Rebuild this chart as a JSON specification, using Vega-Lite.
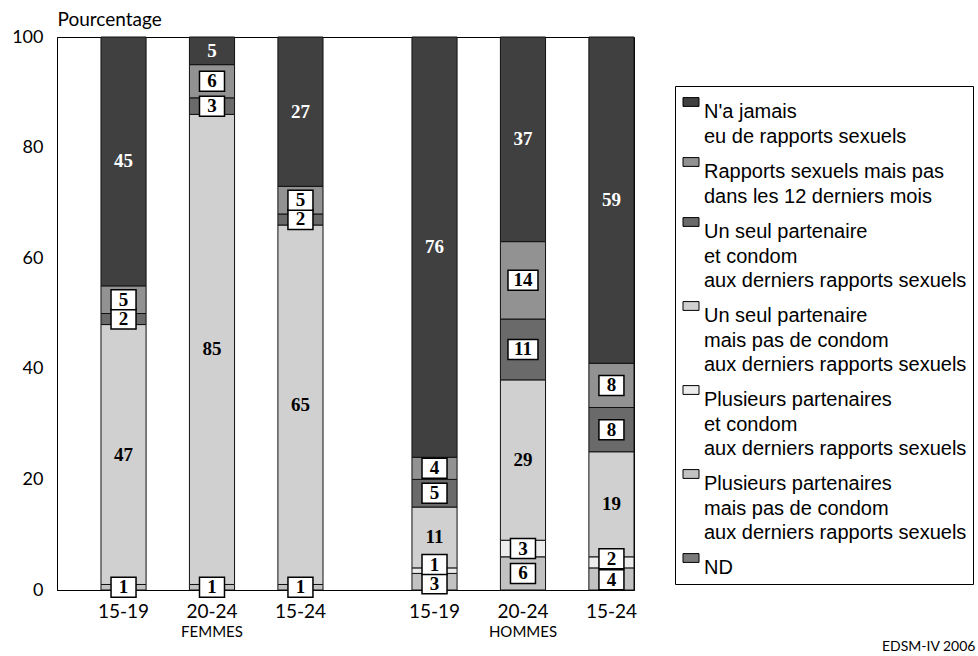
{
  "$schema": "https://vega.github.io/schema/vega-lite/v6.json",
  "width": 577,
  "height": 553,
  "autosize": {"type": "none"},
  "padding": {"left": 57, "top": 37, "right": 344, "bottom": 66},
  "background": "white",
  "config": {
    "view": {"stroke": "black", "strokeWidth": 1},
    "style": {"guide-label": {"lineHeight": 24.5}}
  },
  "data": {
    "values": [
      {"sexe": "FEMMES", "age": "15-19", "categorie": "Plusieurs partenaires|mais pas de condom|aux derniers rapports sexuels", "ordre": 1, "valeur": 1},
      {"sexe": "FEMMES", "age": "15-19", "categorie": "Un seul partenaire|mais pas de condom|aux derniers rapports sexuels", "ordre": 3, "valeur": 47},
      {"sexe": "FEMMES", "age": "15-19", "categorie": "Un seul partenaire|\u00a0et condom|aux derniers rapports sexuels", "ordre": 4, "valeur": 2},
      {"sexe": "FEMMES", "age": "15-19", "categorie": "Rapports sexuels mais pas|\u00a0dans les 12 derniers mois", "ordre": 5, "valeur": 5},
      {"sexe": "FEMMES", "age": "15-19", "categorie": "N'a jamais|eu de rapports sexuels", "ordre": 6, "valeur": 45},
      {"sexe": "FEMMES", "age": "20-24", "categorie": "Plusieurs partenaires|mais pas de condom|aux derniers rapports sexuels", "ordre": 1, "valeur": 1},
      {"sexe": "FEMMES", "age": "20-24", "categorie": "Un seul partenaire|mais pas de condom|aux derniers rapports sexuels", "ordre": 3, "valeur": 85},
      {"sexe": "FEMMES", "age": "20-24", "categorie": "Un seul partenaire|\u00a0et condom|aux derniers rapports sexuels", "ordre": 4, "valeur": 3},
      {"sexe": "FEMMES", "age": "20-24", "categorie": "Rapports sexuels mais pas|\u00a0dans les 12 derniers mois", "ordre": 5, "valeur": 6},
      {"sexe": "FEMMES", "age": "20-24", "categorie": "N'a jamais|eu de rapports sexuels", "ordre": 6, "valeur": 5},
      {"sexe": "FEMMES", "age": "15-24", "categorie": "Plusieurs partenaires|mais pas de condom|aux derniers rapports sexuels", "ordre": 1, "valeur": 1},
      {"sexe": "FEMMES", "age": "15-24", "categorie": "Un seul partenaire|mais pas de condom|aux derniers rapports sexuels", "ordre": 3, "valeur": 65},
      {"sexe": "FEMMES", "age": "15-24", "categorie": "Un seul partenaire|\u00a0et condom|aux derniers rapports sexuels", "ordre": 4, "valeur": 2},
      {"sexe": "FEMMES", "age": "15-24", "categorie": "Rapports sexuels mais pas|\u00a0dans les 12 derniers mois", "ordre": 5, "valeur": 5},
      {"sexe": "FEMMES", "age": "15-24", "categorie": "N'a jamais|eu de rapports sexuels", "ordre": 6, "valeur": 27},
      {"sexe": "HOMMES", "age": "15-19", "categorie": "Plusieurs partenaires|mais pas de condom|aux derniers rapports sexuels", "ordre": 1, "valeur": 3},
      {"sexe": "HOMMES", "age": "15-19", "categorie": "Plusieurs partenaires|\u00a0et condom|aux derniers rapports sexuels", "ordre": 2, "valeur": 1},
      {"sexe": "HOMMES", "age": "15-19", "categorie": "Un seul partenaire|mais pas de condom|aux derniers rapports sexuels", "ordre": 3, "valeur": 11},
      {"sexe": "HOMMES", "age": "15-19", "categorie": "Un seul partenaire|\u00a0et condom|aux derniers rapports sexuels", "ordre": 4, "valeur": 5},
      {"sexe": "HOMMES", "age": "15-19", "categorie": "Rapports sexuels mais pas|\u00a0dans les 12 derniers mois", "ordre": 5, "valeur": 4},
      {"sexe": "HOMMES", "age": "15-19", "categorie": "N'a jamais|eu de rapports sexuels", "ordre": 6, "valeur": 76},
      {"sexe": "HOMMES", "age": "20-24", "categorie": "Plusieurs partenaires|mais pas de condom|aux derniers rapports sexuels", "ordre": 1, "valeur": 6},
      {"sexe": "HOMMES", "age": "20-24", "categorie": "Plusieurs partenaires|\u00a0et condom|aux derniers rapports sexuels", "ordre": 2, "valeur": 3},
      {"sexe": "HOMMES", "age": "20-24", "categorie": "Un seul partenaire|mais pas de condom|aux derniers rapports sexuels", "ordre": 3, "valeur": 29},
      {"sexe": "HOMMES", "age": "20-24", "categorie": "Un seul partenaire|\u00a0et condom|aux derniers rapports sexuels", "ordre": 4, "valeur": 11},
      {"sexe": "HOMMES", "age": "20-24", "categorie": "Rapports sexuels mais pas|\u00a0dans les 12 derniers mois", "ordre": 5, "valeur": 14},
      {"sexe": "HOMMES", "age": "20-24", "categorie": "N'a jamais|eu de rapports sexuels", "ordre": 6, "valeur": 37},
      {"sexe": "HOMMES", "age": "15-24", "categorie": "Plusieurs partenaires|mais pas de condom|aux derniers rapports sexuels", "ordre": 1, "valeur": 4},
      {"sexe": "HOMMES", "age": "15-24", "categorie": "Plusieurs partenaires|\u00a0et condom|aux derniers rapports sexuels", "ordre": 2, "valeur": 2},
      {"sexe": "HOMMES", "age": "15-24", "categorie": "Un seul partenaire|mais pas de condom|aux derniers rapports sexuels", "ordre": 3, "valeur": 19},
      {"sexe": "HOMMES", "age": "15-24", "categorie": "Un seul partenaire|\u00a0et condom|aux derniers rapports sexuels", "ordre": 4, "valeur": 8},
      {"sexe": "HOMMES", "age": "15-24", "categorie": "Rapports sexuels mais pas|\u00a0dans les 12 derniers mois", "ordre": 5, "valeur": 8},
      {"sexe": "HOMMES", "age": "15-24", "categorie": "N'a jamais|eu de rapports sexuels", "ordre": 6, "valeur": 59}
    ]
  },
  "transform": [
    {"stack": "valeur", "groupby": ["sexe", "age"], "sort": [{"field": "ordre", "order": "ascending"}], "as": ["y0", "y1"]},
    {"calculate": "(datum.y0 + datum.y1) / 2 + (datum.sexe == 'HOMMES' && datum.age == '15-19' ? (datum.ordre == 2 ? 1.1 : (datum.ordre == 1 ? -0.35 : 0)) : 0) + (datum.sexe == 'HOMMES' && datum.age == '15-24' ? (datum.ordre == 2 ? 0.65 : (datum.ordre == 1 ? -0.15 : 0)) : 0)", "as": "milieu"}
  ],
  "encoding": {
    "x": {
      "field": "sexe", "type": "nominal", "sort": ["FEMMES", "HOMMES"],
      "scale": {"paddingInner": 0.286, "paddingOuter": 0.0707, "align": 1},
      "axis": {
        "title": "EDSM-IV 2006", "titleX": 918, "titleY": 60, "titleAlign": "right", "titleAnchor": null,
        "titleBaseline": "alphabetic", "titleFont": "Lato", "titleFontSize": 14, "titleFontWeight": "normal", "titleColor": "black",
        "labelFont": "Lato", "labelFontSize": 15, "labelColor": "black", "labelPadding": 34, "labelAngle": 0,
        "ticks": false, "domainColor": "black", "domainWidth": 1
      }
    },
    "xOffset": {
      "field": "age", "type": "nominal", "sort": ["15-19", "20-24", "15-24"],
      "scale": {"paddingInner": 0.49, "paddingOuter": 0}
    }
  },
  "layer": [
    {
      "mark": {"type": "bar", "stroke": "#111111", "strokeWidth": 1},
      "encoding": {
        "y": {
          "field": "y0", "type": "quantitative",
          "scale": {"domain": [0, 100], "nice": false},
          "axis": {
            "title": "Pourcentage", "titleAngle": 0, "titleX": 0, "titleY": -12, "titleAlign": "left",
            "titleBaseline": "alphabetic", "titleFont": "Lato", "titleFontSize": 19, "titleFontWeight": "normal", "titleColor": "black",
            "values": [0, 20, 40, 60, 80, 100], "labelFont": "Lato", "labelFontSize": 18, "labelColor": "black",
            "labelPadding": 14, "ticks": false, "grid": false, "domainColor": "black", "domainWidth": 1
          }
        },
        "y2": {"field": "y1"},
        "color": {
          "field": "categorie", "type": "nominal",
          "scale": {
            "domain": [
              "N'a jamais|eu de rapports sexuels",
              "Rapports sexuels mais pas|\u00a0dans les 12 derniers mois",
              "Un seul partenaire|\u00a0et condom|aux derniers rapports sexuels",
              "Un seul partenaire|mais pas de condom|aux derniers rapports sexuels",
              "Plusieurs partenaires|\u00a0et condom|aux derniers rapports sexuels",
              "Plusieurs partenaires|mais pas de condom|aux derniers rapports sexuels",
              "ND"
            ],
            "range": ["#404040", "#929292", "#6a6a6a", "#d0d0d0", "#ececec", "#c2c2c2", "#7a7a7a"]
          },
          "legend": {
            "title": null, "orient": "none", "legendX": 618, "legendY": 49,
            "labelExpr": "split(datum.label, '|')",
            "labelFont": "Liberation Sans", "labelFontSize": 20, "labelColor": "black", "labelLimit": 600,
            "labelBaseline": "top", "labelOffset": 3,
            "symbolType": "M-1,-0.55H1V0.55H-1Z", "symbolSize": 256, "symbolStrokeColor": "black",
            "symbolStrokeWidth": 1, "symbolOpacity": 1,
            "strokeColor": "black", "fillColor": "white", "padding": 6, "rowPadding": 5
          }
        },
        "order": {"field": "ordre", "type": "quantitative"}
      }
    },
    {
      "transform": [{"filter": "datum.ordre != 3 && datum.ordre != 6"}],
      "mark": {"type": "point", "filled": true, "fill": "white", "stroke": "black", "strokeWidth": 1.5, "opacity": 1},
      "encoding": {
        "y": {"field": "milieu", "type": "quantitative"},
        "shape": {"condition": {"test": "datum.valeur >= 10", "value": "M-1.5,-1H1.5V1H-1.5Z"}, "value": "M-1.25,-1H1.25V1H-1.25Z"},
        "size": {"value": 400}
      }
    },
    {
      "mark": {"type": "text", "font": "Liberation Serif", "fontWeight": "bold", "fontSize": 19, "baseline": "middle"},
      "encoding": {
        "y": {"field": "milieu", "type": "quantitative"},
        "text": {"field": "valeur", "type": "quantitative"},
        "color": {"condition": {"test": "datum.ordre == 6", "value": "white"}, "value": "black"}
      }
    },
    {
      "transform": [{"filter": "datum.ordre == 6"}],
      "mark": {"type": "text", "font": "Lato", "fontSize": 19, "baseline": "top", "dy": 13, "color": "black"},
      "encoding": {
        "y": {"datum": 0},
        "text": {"field": "age", "type": "nominal"}
      }
    }
  ]
}
